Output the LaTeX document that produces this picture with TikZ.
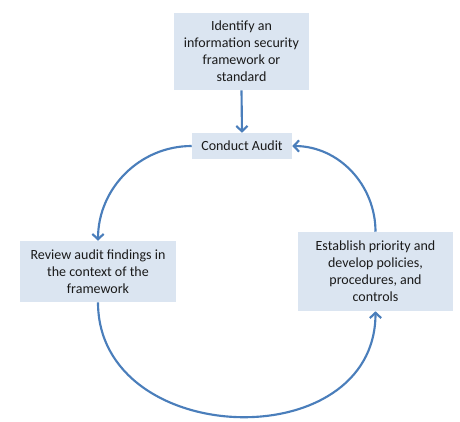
\documentclass[tikz,border=0pt]{standalone}
\usepackage{fontspec}
\setmainfont{Carlito}
\usetikzlibrary{arrows.meta}
\definecolor{boxfill}{HTML}{DBE5F1}
\definecolor{arrowblue}{HTML}{4A7EBB}
\definecolor{txt}{HTML}{1A1A1A}
\begin{document}
\begin{tikzpicture}[x=0.75pt,y=-0.75pt,
  stepbox/.style={fill=boxfill,draw=none,inner sep=0pt,align=center,
    font=\fontsize{10.5}{12.8}\selectfont,text=txt},
  flow/.style={draw=arrowblue,line width=1.6pt,
    -{Straight Barb[length=4pt,width=8.5pt,line width=1.6pt]}}]
\useasboundingbox (0,0) rectangle (460,421);
\node[stepbox,minimum width=135*0.75pt,minimum height=77*0.75pt] (id) at (241.5,51.5)
  {Identify an\\information security\\framework or\\standard};
\node[stepbox,minimum width=100*0.75pt,minimum height=26*0.75pt] (ca) at (242,146)
  {Conduct Audit};
\node[stepbox,minimum width=156*0.75pt,minimum height=61*0.75pt] (rv) at (98,271.5)
  {Review audit findings in\\the context of the\\framework};
\node[stepbox,minimum width=155*0.75pt,minimum height=79*0.75pt] (es) at (375.5,271.5)
  {Establish priority and\\develop policies,\\procedures, and\\controls};
\draw[flow] (id.south) -- (ca.north);
\draw[flow] (ca.west) to[out=180,in=90] (rv.north);
\draw[flow] (rv.south) to[out=-90,in=-90,looseness=1.35] (es.south);
\draw[flow] (es.north) to[out=90,in=0] (ca.east);
\end{tikzpicture}
\end{document}
